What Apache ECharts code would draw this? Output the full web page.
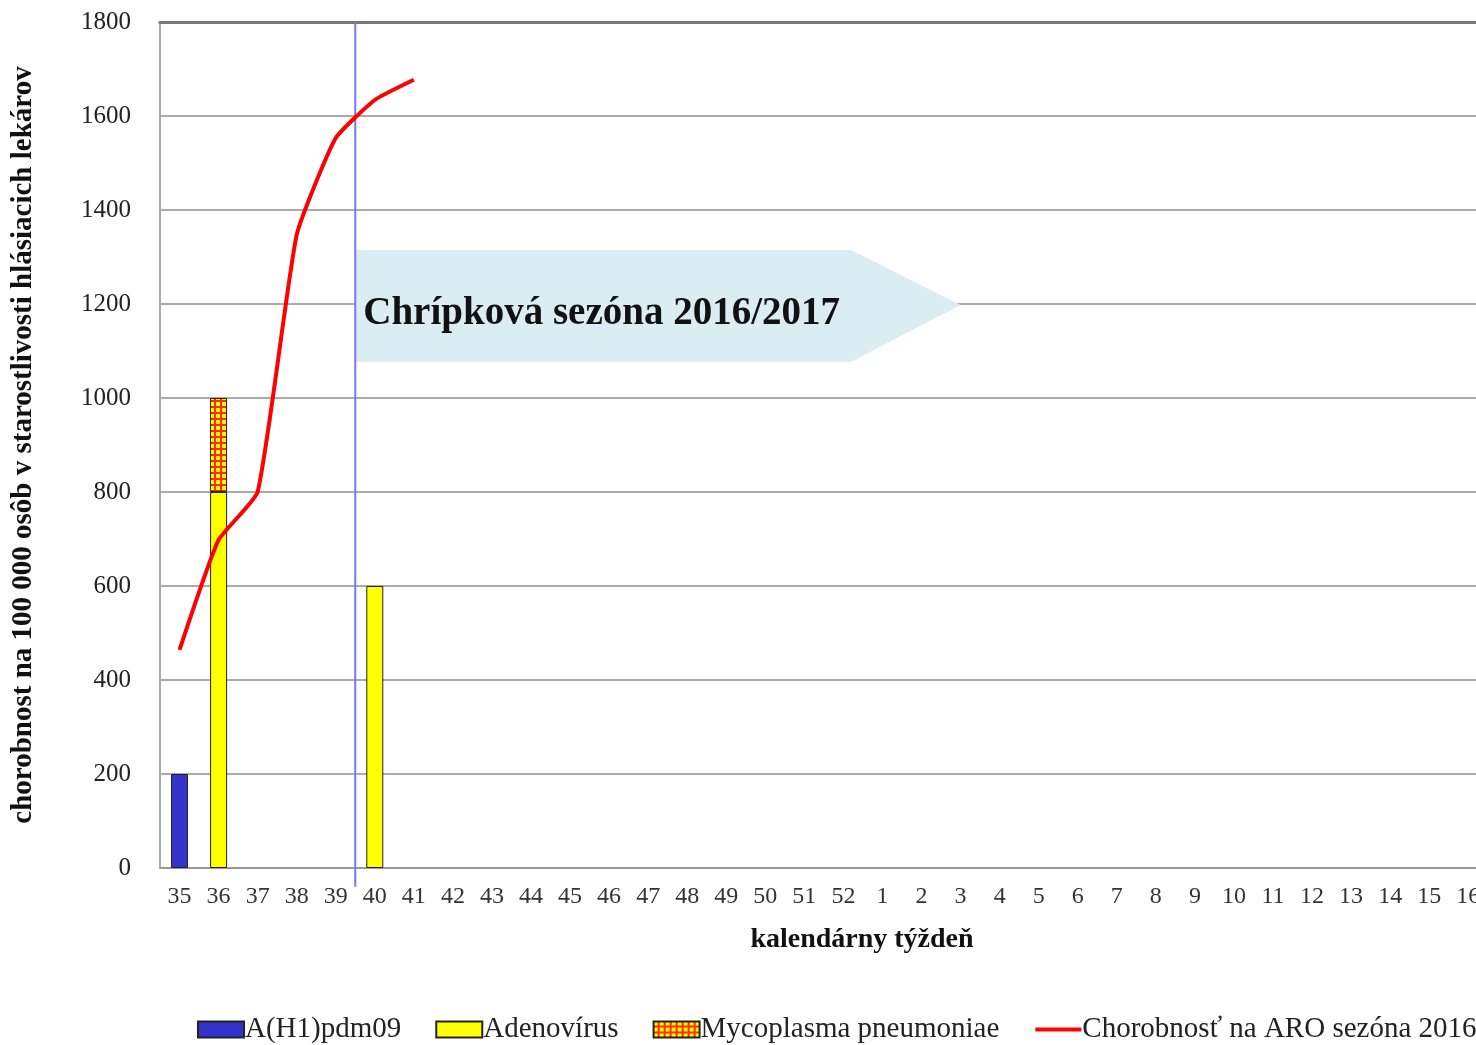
<!DOCTYPE html>
<html>
<head>
<meta charset="utf-8">
<script src="https://cdn.jsdelivr.net/npm/echarts@6/dist/echarts.min.js"></script>
<style>
  html, body { margin: 0; padding: 0; background: #fff; overflow: hidden; }
  #chart { width: 1476px; height: 1045px; }
</style>
</head>
<body>
<div id="chart"></div>
<script>
// kalendarne tyzdne (graf je vpravo orezany)
const weeks = ['35','36','37','38','39','40','41','42','43','44','45','46','47','48','49','50','51','52',
  '1','2','3','4','5','6','7','8','9','10','11','12','13','14','15','16','17','18','19','20'];
const h1pdm09 = [200, '-', '-', '-', '-', '-', '-'];
const adeno = ['-', 800, '-', '-', '-', 600, '-'];
const myco = ['-', 200, '-', '-', '-', '-', '-'];
const aro = [464, 698, 800, 1347, 1553, 1634, 1677];
const seasonStart = 5;          // hranica medzi 39. a 40. tyzdnom
const seasonText = 'Chrípková sezóna 2016/2017';

const serif = '"Liberation Serif", "DejaVu Serif", serif';

// vzor pre Mycoplasma - zlta s cervenou mriezkou
function makePattern() {
  const c = document.createElement('canvas');
  c.width = 6; c.height = 6;
  const g = c.getContext('2d');
  g.fillStyle = '#ffff00';
  g.fillRect(0, 0, 6, 6);
  g.fillStyle = '#ff2a00';
  g.fillRect(0, 4, 6, 2);
  g.fillRect(4, 0, 2, 6);
  return c;
}

const chart = echarts.init(document.getElementById('chart'));

const option = {
  animation: false,
  backgroundColor: '#fff',
  textStyle: { fontFamily: serif },
  grid: { left: 160, top: 22, bottom: 177, width: 1484, outerBoundsMode: 'none', containLabel: false },
  legend: {
    left: 192, top: 1010, width: 3000,
    icon: 'rect',
    itemWidth: 46, itemHeight: 16, itemGap: 34,
    textStyle: { fontFamily: serif, fontSize: 29, color: '#222', padding: [0, 0, 0, -4] },
    data: ['A(H1)pdm09', 'Adenovírus', 'Mycoplasma pneumoniae',
      { name: 'Chorobnosť na ARO sezóna 2016/2017', icon: 'inherit', itemStyle: { opacity: 0 }, lineStyle: { width: 4 } }]
  },
  xAxis: [{
    type: 'category',
    data: weeks,
    name: 'kalendárny týždeň',
    nameLocation: 'middle',
    nameGap: 58,
    nameTextStyle: { fontFamily: serif, fontSize: 28, fontWeight: 'bold', color: '#111', padding: [0, 80, 0, 0] },
    axisLine: { lineStyle: { color: '#999', width: 2 } },
    axisTick: { length: 6, lineStyle: { color: '#aaa', width: 2 } },
    axisLabel: { fontFamily: serif, fontSize: 24, color: '#333', margin: 17 }
  }, {
    type: 'value', min: 0, max: weeks.length, show: false
  }, {
    type: 'category', position: 'top', data: weeks,
    axisLine: { show: true, lineStyle: { color: '#777', width: 3 } },
    axisTick: { show: false }, axisLabel: { show: false }
  }],
  yAxis: {
    type: 'value',
    min: 0, max: 1800, interval: 200,
    name: 'chorobnost na 100 000 osôb v starostlivosti hlásiacich lekárov',
    nameLocation: 'middle',
    nameGap: 122,
    nameTextStyle: { fontFamily: serif, fontSize: 29, fontWeight: 'bold', color: '#111' },
    axisLine: { show: true, lineStyle: { color: '#aaa', width: 2 } },
    axisTick: { show: false },
    axisLabel: { fontFamily: serif, fontSize: 25, color: '#222', margin: 29, formatter: v => String(v) },
    splitLine: { lineStyle: { color: '#aaa', width: 2 } }
  },
  series: [
    {
      name: 'A(H1)pdm09', type: 'bar', stack: 'v', barWidth: 17,
      itemStyle: { color: '#3333cc', borderColor: '#222', borderWidth: 1 },
      data: h1pdm09
    },
    {
      name: 'Adenovírus', type: 'bar', stack: 'v', barWidth: 17,
      itemStyle: { color: '#ffff00', borderColor: '#222', borderWidth: 1 },
      data: adeno
    },
    {
      name: 'Mycoplasma pneumoniae', type: 'bar', stack: 'v', barWidth: 17,
      itemStyle: { color: { image: makePattern(), repeat: 'repeat' }, borderColor: '#222', borderWidth: 1 },
      data: myco
    },
    {
      name: 'Chorobnosť na ARO sezóna 2016/2017', type: 'line',
      symbol: 'none', smooth: 0.15,
      itemStyle: { color: '#ff0000' },
      lineStyle: { color: '#ff0000', width: 4 },
      data: aro,
      z: 5
    },
    {
      // zaciatok sezony - zvisla ciara
      type: 'line', xAxisIndex: 1, silent: true, symbol: 'none', clip: false,
      lineStyle: { color: '#7777ee', width: 2 },
      data: [[seasonStart, 1800], [seasonStart, -40]],
      z: 4
    }
  ]
};

chart.setOption(option);

// sipka sezony, umiestnena cez suradnice grafu
function drawArrow() {
  const p = (x, y) => chart.convertToPixel({ xAxisIndex: 1, yAxisIndex: 0 }, [x, y]);
  const a = p(seasonStart, 1315), b = p(17.7, 1315), tip = p(20.5, 1198), c = p(17.7, 1077), d = p(seasonStart, 1077);
  const mid = p(seasonStart, 1196);
  chart.setOption({
    graphic: [{
      type: 'polygon', z: 1,
      shape: { points: [a, b, tip, c, d] },
      style: { fill: '#daedf3' }
    }, {
      type: 'text', z: 2,
      x: mid[0] + 8, y: mid[1] + 8,
      style: {
        text: seasonText, fill: '#111',
        font: 'bold 39px ' + serif,
        textVerticalAlign: 'middle'
      }
    }]
  });
}
drawArrow();
</script>
</body>
</html>
